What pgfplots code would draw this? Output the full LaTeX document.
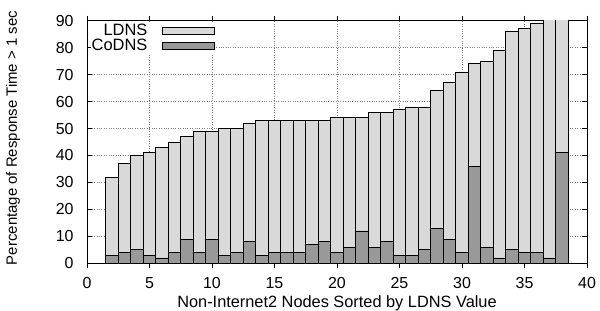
\documentclass[border=0pt]{standalone}
\usepackage{pgfplots}
\pgfplotsset{compat=1.18}
\usepackage{fontspec}
\setmainfont{Liberation Sans}
\definecolor{ldns}{RGB}{217,217,217}
\definecolor{codns}{RGB}{153,153,153}
\begin{document}
\fontsize{16}{18}\selectfont
\begin{tikzpicture}
\begin{axis}[
  scale only axis,
  width=500bp, height=242.6bp,
  xmin=0, xmax=40, ymin=0, ymax=90,
  xtick={0,5,...,40}, ytick={0,10,...,90},
  tick align=inside,
  major tick length=5bp,
  tick style={black, line width=0.6pt},
  grid=major,
  grid style={gray, dotted, line width=0.5pt},
  axis line style={black, line width=0.8pt},
  /pgf/number format/assume math mode=true,
  tick label style={font=\fontsize{16}{18}\selectfont},
  xticklabel style={yshift=-4bp},
  yticklabel style={xshift=-8bp},
  xlabel style={font=\fontsize{16.4}{18}\selectfont, yshift=4bp},
  ylabel style={font=\fontsize{15}{17}\selectfont, yshift=25bp, xshift=4bp},
  xlabel={Non-Internet2 Nodes Sorted by LDNS Value},
  ylabel={Percentage of Response Time > 1 sec},
  ybar, bar width=1, bar shift=0pt,
  legend style={at={(0.008,0.99)}, anchor=north west, draw=none, fill=white,
    font=\fontsize{16.5}{18}\selectfont, row sep=0pt, inner sep=0pt,
    nodes={inner sep=0.5bp}},
  legend cell align=right,
  legend plot pos=right,
  legend image code/.code={\path (0bp,0bp); \draw[#1, line width=0.8pt] (14bp,-3.5bp) rectangle (66bp,3.5bp);},
]
\addplot[fill=ldns, draw=black, line width=0.8pt] coordinates {
(2,32) (3,37) (4,40) (5,41) (6,43) (7,45) (8,47) (9,49) (10,49) (11,50)
(12,50) (13,52) (14,53) (15,53) (16,53) (17,53) (18,53) (19,53) (20,54) (21,54)
(22,54) (23,56) (24,56) (25,57) (26,58) (27,58) (28,64) (29,67) (30,71) (31,74)
(32,75) (33,79) (34,86) (35,87) (36,89) (37,91) (38,92)};
\addlegendentry{LDNS}
\addplot[fill=codns, draw=black, line width=0.8pt] coordinates {
(2,3) (3,4) (4,5) (5,3) (6,2) (7,4) (8,9) (9,4) (10,9) (11,3)
(12,4) (13,8) (14,3) (15,4) (16,4) (17,4) (18,7) (19,8) (20,4) (21,6)
(22,12) (23,6) (24,8) (25,3) (26,3) (27,5) (28,13) (29,9) (30,4) (31,36)
(32,6) (33,2) (34,5) (35,4) (36,4) (37,2) (38,41)};
\addlegendentry{CoDNS}
\coordinate (ll) at (rel axis cs:0,0);
\coordinate (ur) at (rel axis cs:1,1);
\end{axis}
\pgfresetboundingbox
\path[use as bounding box] ([shift={(-87bp,-47.7bp)}]ll) rectangle ([shift={(13bp,20.7bp)}]ur);
\end{tikzpicture}
\end{document}
